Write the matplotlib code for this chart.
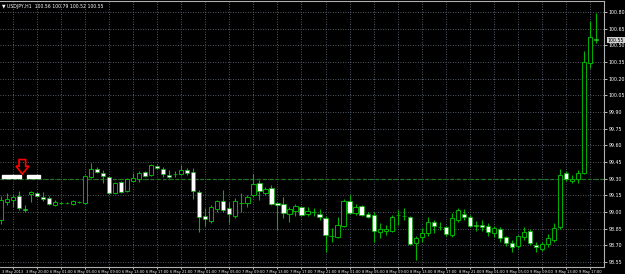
import numpy as np
import matplotlib.pyplot as plt
from matplotlib.patches import Polygon, Rectangle

# USDJPY H1, 3-9 May 2013, MetaTrader look (green on black)
opens = [98.928, 99.090, 99.108, 99.144, 99.027, 99.162, 99.171, 99.135, 99.126, 99.063,
         99.081, 99.084, 99.072, 99.090, 99.081, 99.315, 99.387, 99.351, 99.315, 99.171,
         99.270, 99.189, 99.279, 99.297, 99.360, 99.333, 99.414, 99.387, 99.333, 99.342,
         99.342, 99.378, 99.360, 99.180, 98.964, 98.919, 99.027, 99.099, 99.036, 98.964,
         99.081, 99.081, 99.153, 99.261, 99.171, 99.216, 99.081, 99.072, 98.982, 99.009,
         99.045, 98.982, 99.000, 98.982, 98.946, 98.784, 98.775, 98.874, 99.099, 98.991,
         99.054, 98.982, 98.973, 98.820, 98.829, 98.829, 98.973, 98.964, 98.955, 98.721,
         98.775, 98.811, 98.910, 98.865, 98.865, 98.793, 98.928, 98.982, 98.955, 98.883,
         98.883, 98.874, 98.811, 98.847, 98.775, 98.721, 98.694, 98.775, 98.829, 98.703,
         98.667, 98.712, 98.748, 98.865, 99.351, 99.279, 99.297, 99.351, 100.341, 100.557]
highs = [99.144, 99.171, 99.153, 99.189, 99.063, 99.189, 99.180, 99.180, 99.144, 99.108,
         99.090, 99.090, 99.108, 99.099, 99.333, 99.441, 99.405, 99.378, 99.324, 99.270,
         99.279, 99.306, 99.351, 99.369, 99.369, 99.432, 99.423, 99.405, 99.378, 99.369,
         99.423, 99.396, 99.396, 99.198, 99.036, 99.063, 99.108, 99.198, 99.090, 99.126,
         99.171, 99.153, 99.342, 99.288, 99.225, 99.243, 99.090, 99.135, 99.045, 99.072,
         99.054, 99.045, 99.036, 99.027, 98.964, 98.856, 98.955, 99.117, 99.153, 99.072,
         99.063, 99.000, 99.000, 98.901, 98.883, 98.973, 99.018, 99.036, 98.964, 98.784,
         98.856, 98.955, 98.928, 98.910, 98.874, 98.991, 99.036, 99.027, 98.973, 98.919,
         98.928, 98.901, 98.874, 98.865, 98.784, 98.748, 98.793, 98.865, 98.847, 98.730,
         98.730, 98.802, 98.901, 99.387, 99.369, 99.333, 99.378, 100.449, 100.719, 100.791]
lows = [98.892, 99.063, 99.045, 99.018, 99.000, 99.090, 99.135, 99.099, 99.063, 99.054,
        99.072, 99.072, 99.063, 99.081, 99.072, 99.306, 99.351, 99.261, 99.162, 99.162,
        99.171, 99.180, 99.270, 99.270, 99.315, 99.324, 99.387, 99.315, 99.306, 99.315,
        99.333, 99.333, 99.117, 98.820, 98.874, 98.901, 99.000, 99.000, 98.901, 98.946,
        99.000, 99.045, 99.135, 99.108, 99.153, 99.063, 98.838, 98.946, 98.910, 98.964,
        98.964, 98.964, 98.964, 98.928, 98.640, 98.730, 98.766, 98.865, 98.982, 98.973,
        98.964, 98.946, 98.730, 98.766, 98.793, 98.820, 98.883, 98.928, 98.703, 98.568,
        98.730, 98.784, 98.811, 98.838, 98.784, 98.775, 98.910, 98.928, 98.865, 98.829,
        98.829, 98.784, 98.775, 98.730, 98.694, 98.640, 98.676, 98.748, 98.703, 98.640,
        98.649, 98.685, 98.730, 98.847, 99.279, 99.261, 99.261, 99.342, 100.296, 100.521]
closes = [99.108, 99.117, 99.135, 99.036, 99.022, 99.180, 99.144, 99.117, 99.072, 99.090,
          99.084, 99.080, 99.099, 99.093, 99.324, 99.387, 99.360, 99.324, 99.171, 99.261,
          99.180, 99.297, 99.306, 99.351, 99.324, 99.423, 99.396, 99.342, 99.315, 99.340,
          99.378, 99.351, 99.189, 98.955, 98.937, 99.045, 99.099, 99.018, 98.982, 99.099,
          99.085, 99.135, 99.252, 99.189, 99.207, 99.072, 99.063, 98.991, 99.027, 99.054,
          98.973, 99.009, 99.003, 98.955, 98.793, 98.787, 98.883, 99.099, 98.991, 99.045,
          98.973, 98.955, 98.829, 98.847, 98.847, 98.955, 98.970, 98.961, 98.712, 98.766,
          98.811, 98.910, 98.874, 98.862, 98.802, 98.946, 99.018, 98.955, 98.874, 98.874,
          98.865, 98.820, 98.856, 98.766, 98.721, 98.685, 98.784, 98.820, 98.721, 98.685,
          98.712, 98.766, 98.856, 99.333, 99.297, 99.297, 99.351, 100.350, 100.575, 100.548]

time_labels = ["3 May 2013", "3 May 20:00",
               "6 May 01:00", "6 May 05:00", "6 May 09:00", "6 May 13:00", "6 May 17:00", "6 May 21:00",
               "7 May 01:00", "7 May 05:00", "7 May 09:00", "7 May 13:00", "7 May 17:00", "7 May 21:00",
               "8 May 01:00", "8 May 05:00", "8 May 09:00", "8 May 13:00", "8 May 17:00", "8 May 21:00",
               "9 May 01:00", "9 May 05:00", "9 May 09:00", "9 May 13:00", "9 May 17:00"]
price_ticks = [98.55, 98.70, 98.85, 99.00, 99.15, 99.30, 99.45, 99.60, 99.75, 99.90,
               100.05, 100.20, 100.35, 100.50, 100.65, 100.80]
hline_price = 99.297
last_price = 100.548
header = "USDJPY,H1  100.56 100.79 100.52 100.55"

green = '#00b400'
gridc = '#6a7888'

o = np.array(opens)
h = np.array(highs)
l = np.array(lows)
c = np.array(closes)
x = np.arange(len(o))

fig = plt.figure(figsize=(6.25, 2.74), dpi=100, facecolor='black')
ax = fig.add_axes([0, 7 / 274, 604 / 625, 266 / 274])
ax.set_facecolor('black')

# grid
for p in price_ticks:
    ax.axhline(p, color=gridc, lw=0.6, ls=(0, (1, 2)), zorder=0)
tick_x = 2 + 4 * np.arange(len(time_labels))
for t in tick_x:
    ax.axvline(t, color=gridc, lw=0.6, ls=(0, (1, 2)), zorder=0)

# horizontal line object
ax.axhline(hline_price, color='#1c7a1c', lw=0.9, ls=(0, (3, 2)), zorder=1)

# candles
ax.vlines(x, l, h, color=green, lw=0.8, zorder=2)
bull = c >= o
bottoms = np.minimum(o, c)
heights = np.abs(c - o)
ax.bar(x[bull], heights[bull], bottom=bottoms[bull], width=0.7,
       color='black', edgecolor=green, linewidth=0.7, zorder=3)
ax.bar(x[~bull], heights[~bull], bottom=bottoms[~bull], width=0.7,
       color='white', edgecolor=green, linewidth=0.5, zorder=3)

ax.set_xlim(-1 / 6.01, 603 / 6.01)
ax.set_ylim(98.505, 100.899)

# label blocks of the line and red arrow
ax.add_patch(Rectangle((0.1, hline_price + 0.005), 3.2, 0.035, color='white', zorder=4))
ax.add_patch(Rectangle((4.3, hline_price + 0.005), 2.2, 0.035, color='white', zorder=4))
ax_x, ax_y = 3.55, hline_price + 0.045
arrow = [(-0.55, 0.13), (0.55, 0.13), (0.55, 0.07), (1.05, 0.07), (0, 0),
         (-1.05, 0.07), (-0.55, 0.07)]
ax.add_patch(Polygon([(ax_x + dx, ax_y + dy) for dx, dy in arrow], closed=True,
                     fill=False, edgecolor='red', lw=1.2, zorder=5))

# axes look
ax.spines['left'].set_visible(False)
for s in ['top', 'right', 'bottom']:
    ax.spines[s].set_color('#b0b0b0')
    ax.spines[s].set_linewidth(0.8)
ax.yaxis.tick_right()
ax.set_yticks(price_ticks)
ax.set_yticklabels(['%.2f' % p for p in price_ticks])
ax.set_xticks(tick_x)
ax.set_xticklabels(time_labels)
ax.tick_params(axis='y', colors='white', labelsize=3.4, length=2, width=0.5, pad=1.5)
ax.tick_params(axis='x', colors='white', labelsize=2.6, length=1.5, width=0.5, pad=0.6)

# current price tag
ax.text(1.006, last_price, '%.2f' % last_price, transform=ax.get_yaxis_transform(),
        fontsize=3.4, color='black', va='center', ha='left',
        bbox=dict(boxstyle='square,pad=0.15', fc='#d0d0d0', ec='none'), clip_on=False, zorder=6)

fig.text(0.004, 0.985, '\u25bc ' + header, color='white', fontsize=3.3, va='top', ha='left')

fig.savefig('out.png', dpi=100, facecolor='black')
